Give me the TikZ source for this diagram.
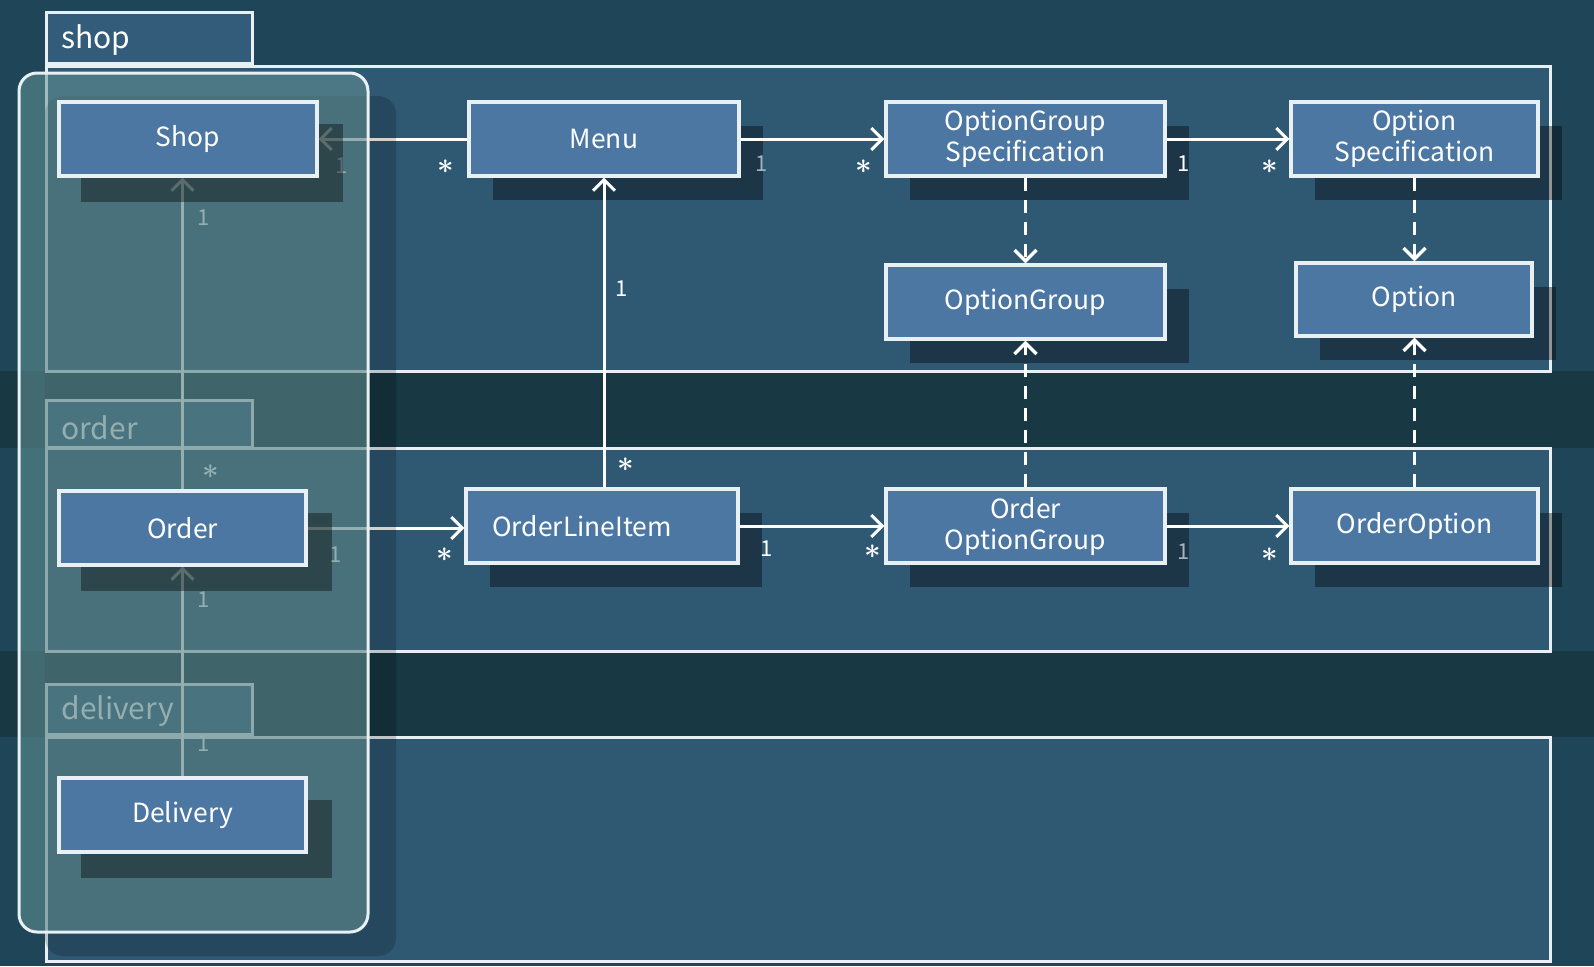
\documentclass[tikz,border=0pt]{standalone}
\usepackage{fontspec}
\setmainfont{Noto Sans CJK KR}
\usetikzlibrary{arrows.meta}
\definecolor{bgcol}{RGB}{30,70,88}
\definecolor{bgdark}{RGB}{24,56,68}
\definecolor{pkgfill}{RGB}{47,88,115}
\definecolor{tabfill}{RGB}{50,92,122}
\definecolor{boxfill}{RGB}{76,119,163}
\definecolor{edgecol}{RGB}{232,240,244}
\definecolor{ovfill}{RGB}{100,148,150}
\definecolor{dimtext}{RGB}{165,180,190}
\tikzset{
  cls/.style={draw=edgecol, line width=1.6pt, fill=boxfill, text=white,
    font=\fontsize{13.2}{15.5}\selectfont, align=center, inner sep=0pt,
    minimum height=37pt},
  pkg/.style={draw=edgecol, line width=1.5pt, fill=pkgfill},
  tabbox/.style={draw=edgecol, line width=1.5pt, fill=tabfill},
  tablabel/.style={text=white, font=\fontsize{15}{18}\selectfont, anchor=west, inner sep=0pt},
  assoc/.style={draw=white, line width=1.5pt, -{Straight Barb[length=5.5pt,width=11pt]}},
  dep/.style={assoc, line width=1.7pt, dash pattern=on 6.5pt off 4.5pt},
  mult/.style={text=white, font=\fontsize{11}{13}\selectfont, inner sep=0pt},
  multdim/.style={mult, text=dimtext},
  star/.style={text=white, font=\fontsize{14}{14}\selectfont\boldmath, inner sep=0pt},
  shad/.style={fill=black, fill opacity=0.38, draw=none}
}
\newcommand{\stm}{$\ast$}
\begin{document}
\begin{tikzpicture}[x=0.5pt,y=-0.5pt]
\useasboundingbox (0,0) rectangle (1594,966);
% background
\fill[bgcol] (0,0) rectangle (1594,966);
\fill[bgdark] (0,371) rectangle (1594,448);
\fill[bgdark] (0,651) rectangle (1594,737);

% packages
\draw[pkg] (46,66) rectangle (1550,371);
\draw[tabbox] (46,12) rectangle (252,63);
\node[tablabel] (tshop) at (61,40) {shop};
\draw[pkg] (46,448) rectangle (1550,651);
\draw[tabbox] (46,400) rectangle (252,447);
\node[tablabel] (torder) at (61,428) {order};
\draw[pkg] (46,737) rectangle (1550,961);
\draw[tabbox] (46,684) rectangle (252,734);
\node[tablabel] (tdelivery) at (61,711) {delivery};

% shadows of right-side boxes
\foreach \cx/\cy/\w/\h in {604/139/270/74, 1025.5/139/279/74, 1414.5/139/247/74,
  1025.5/302/279/74, 1414/299.5/236/73, 602/526/272/74, 1025.5/526/279/74, 1414.5/526/247/74}{
  \fill[shad] (\cx-\w/2+24,\cy-\h/2+24) rectangle (\cx+\w/2+24,\cy+\h/2+24);
}

% class boxes
\node[cls, minimum width=129pt] (shop) at (188,139) {Shop};
\node[cls, minimum width=135pt] (menu) at (604,139) {Menu};
\node[cls, minimum width=139.5pt] (ogs) at (1025.5,139) {OptionGroup\\[0pt]Specification};
\node[cls, minimum width=123.5pt] (os) at (1414.5,139) {Option\\[0pt]Specification};
\node[cls, minimum width=139.5pt] (og) at (1025.5,302) {OptionGroup};
\node[cls, minimum width=118pt, minimum height=36.5pt] (opt) at (1414,299.5) {Option};
\node[cls, minimum width=136pt] (oli) at (602,526) {\hspace*{-20pt}OrderLineItem};
\node[cls, minimum width=139.5pt] (oog) at (1025.5,526) {Order\\[0pt]OptionGroup};
\node[cls, minimum width=123.5pt] (oo) at (1414.5,526) {OrderOption};
\node[cls, minimum width=123.5pt] (order) at (182.5,528) {Order};
\node[cls, minimum width=123.5pt] (delivery) at (182.5,815) {Delivery};

% connectors
\draw[assoc] (menu.west) -- (shop.east);
\draw[assoc] (menu.east) -- (ogs.west);
\draw[assoc] (ogs.east) -- (os.west);
\draw[dep] (ogs.south) -- (og.north);
\draw[dep] (os.south) -- (os.south |- opt.north);
\draw[assoc] (menu.south |- oli.north) -- (menu.south);
\draw[assoc] (order.north) -- (order.north |- shop.south);
\draw[assoc] (order.east) -- (oli.west |- order.east);
\draw[assoc] (oli.east) -- (oog.west);
\draw[assoc] (oog.east) -- (oo.west);
\draw[dep] (oog.north) -- (og.south);
\draw[dep] (oo.north) -- (oo.north |- opt.south);
\draw[assoc] (delivery.north) -- (order.south);

% multiplicities
\node[mult] (m1) at (342,166) {1};
\node[star] (m2) at (446,167) {\stm};
\node[multdim] (m3) at (762,164) {1};
\node[star] (m4) at (864,167) {\stm};
\node[mult] (m5) at (1184,164) {1};
\node[star] (m6) at (1270,167) {\stm};
\node[mult] (m7) at (204,218) {1};
\node[mult] (m8) at (622,289) {1};
\node[star] (m9) at (626,465) {\stm};
\node[star] (m10) at (211,472) {\stm};
\node[mult] (m11) at (336,555) {1};
\node[star] (m12) at (445,555) {\stm};
\node[mult] (m13) at (767,549) {1};
\node[star] (m14) at (873,552) {\stm};
\node[multdim] (m15) at (1184,552) {1};
\node[star] (m16) at (1270,555) {\stm};
\node[mult] (m17) at (204,600) {1};
\node[mult] (m18) at (204,744) {1};

% translucent overlay with soft shadow
\fill[black, fill opacity=0.18, rounded corners=9pt] (45,96) rectangle (396,956);
\draw[edgecol, line width=1.5pt, fill=ovfill, fill opacity=0.55, rounded corners=9pt] (19,73) rectangle (368,932);

% left-column boxes on top of overlay
\foreach \n in {shop,order,delivery}{
  \fill[shad] ([shift={(24,24)}]\n.south west) rectangle ([shift={(24,24)}]\n.north east);
}
\node[cls, minimum width=129pt] (shoptop) at (shop) {Shop};
\node[cls, minimum width=123.5pt] (ordertop) at (order) {Order};
\node[cls, minimum width=123.5pt] (deliverytop) at (delivery) {Delivery};
\end{tikzpicture}
\end{document}
